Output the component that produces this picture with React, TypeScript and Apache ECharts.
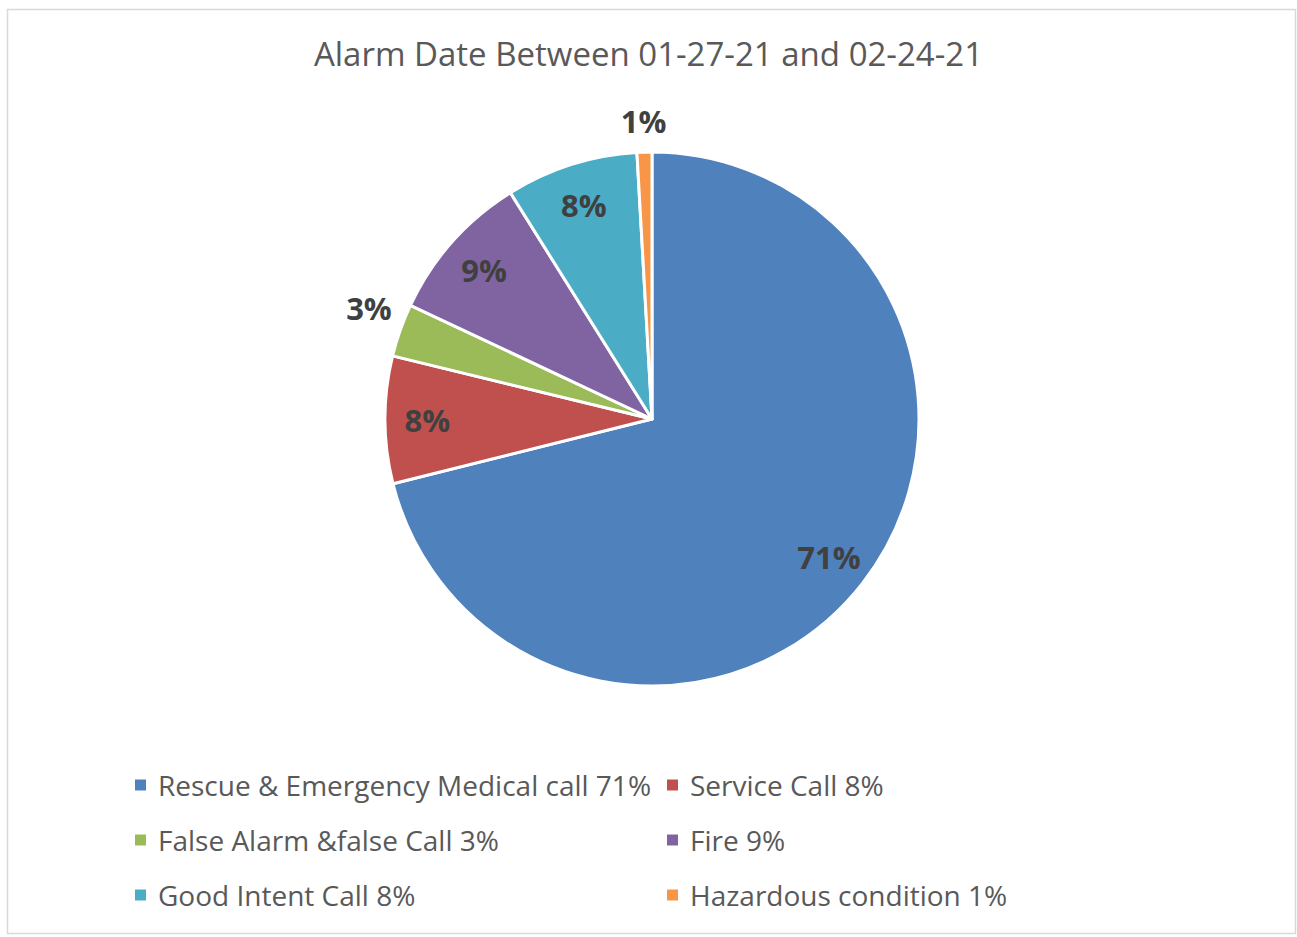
import React, { useEffect, useRef } from "react";
import * as echarts from "echarts";

const titleText = "Alarm Date Between 01-27-21 and 02-24-21";
const categories = [
  "Rescue & Emergency Medical call 71%",
  "Service Call 8%",
  "False Alarm &false Call 3%",
  "Fire 9%",
  "Good Intent Call 8%",
  "Hazardous condition 1%",
];
const values = [71.1, 7.7, 3.2, 9.1, 8.0, 0.9];
const labelTexts = ["71%", "8%", "3%", "9%", "8%", "1%"];
const outsideLabel = [false, false, true, false, false, true];
const colors = ["#4F81BD", "#C0504D", "#9BBB59", "#8064A2", "#4BACC6", "#F79646"];

const FONT = "Open Sans";

export default function App() {
  const ref = useRef<HTMLDivElement>(null);
  useEffect(() => {
    if (!ref.current) return;
    const chart = echarts.init(ref.current, null, { renderer: "svg" });
    const center = [652, 419];
    const R = 267;
    const labelStyle = {
      color: "#404040",
      fontFamily: FONT,
      fontWeight: "bold" as const,
      fontSize: 31,
    };
    const mainData = categories.map((name, i) => ({
      name,
      value: values[i],
      itemStyle: { color: colors[i] },
    }));
    const overlayData = (outside: boolean) =>
      categories.map((name, i) => ({
        name,
        value: values[i],
        itemStyle: { color: "rgba(0,0,0,0)", borderWidth: 0 },
        label: {
          show: outsideLabel[i] === outside,
          position: "inside",
          formatter: labelTexts[i],
          offset: outside && i === 2 ? [-2, -12] : [0, 0],
          ...labelStyle,
        },
      }));
    const legendCommon = {
      orient: "vertical" as const,
      icon: "rect",
      itemWidth: 13,
      itemHeight: 13,
      itemGap: 25,
      padding: 0,
      selectedMode: false,
      textStyle: {
        color: "#595959",
        fontFamily: FONT,
        fontSize: 28,
        lineHeight: 30,
        padding: [0, 0, 0, 6],
      },
    };
    chart.setOption({
      animation: false,
      title: {
        text: titleText,
        left: "center",
        top: 37,
        padding: 0,
        textStyle: {
          color: "#595959",
          fontFamily: FONT,
          fontWeight: "normal",
          fontSize: 33,
        },
      },
      legend: [
        {
          ...legendCommon,
          left: 133,
          top: 770,
          data: [categories[0], categories[2], categories[4]],
        },
        {
          ...legendCommon,
          left: 665,
          top: 770,
          data: [categories[1], categories[3], categories[5]],
        },
      ],
      graphic: [
        {
          type: "rect",
          shape: { x: 7.5, y: 9.5, width: 1288, height: 924 },
          style: { fill: "none", stroke: "#D9D9D9", lineWidth: 1.5 },
          silent: true,
        },
      ],
      series: [
        {
          type: "pie",
          center,
          radius: [0, R],
          startAngle: 90,
          clockwise: true,
          label: { show: false },
          labelLine: { show: false },
          itemStyle: { borderColor: "#FFFFFF", borderWidth: 3 },
          emphasis: { disabled: true },
          data: mainData,
        },
        {
          type: "pie",
          center,
          radius: [R * 0.66, R],
          startAngle: 90,
          clockwise: true,
          silent: true,
          labelLine: { show: false },
          avoidLabelOverlap: false,
          emphasis: { disabled: true },
          legendHoverLink: false,
          data: overlayData(false),
        },
        {
          type: "pie",
          center,
          radius: [R * 1.0, R * 1.21],
          startAngle: 90,
          clockwise: true,
          silent: true,
          labelLine: { show: false },
          avoidLabelOverlap: false,
          emphasis: { disabled: true },
          legendHoverLink: false,
          data: overlayData(true),
        },
      ],
    });
    return () => chart.dispose();
  }, []);
  return (
    <div
      ref={ref}
      style={{ position: "absolute", left: 0, top: 0, width: 1297, height: 937, background: "#fff" }}
    />
  );
}
